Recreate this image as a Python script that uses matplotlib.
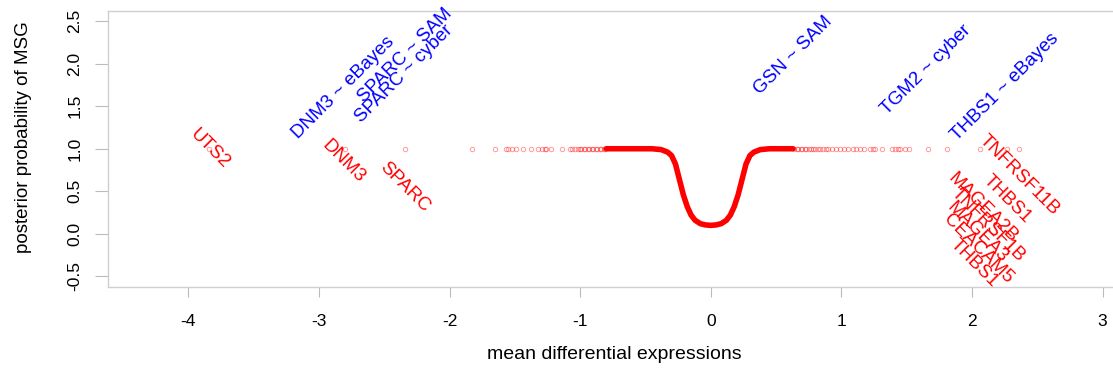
import numpy as np
import matplotlib
matplotlib.use("Agg")
import matplotlib.pyplot as plt

plt.rcParams['font.family'] = ['Liberation Sans', 'DejaVu Sans']
plt.rcParams['axes.unicode_minus'] = False

# fitted posterior curve
curve_x = [-0.80, -0.45, -0.38, -0.33, -0.30, -0.27, -0.24, -0.21, -0.18, -0.15, -0.12,
           -0.08, -0.04, 0.00, 0.04, 0.08, 0.12, 0.15, 0.18, 0.21, 0.24, 0.27, 0.30,
           0.33, 0.38, 0.45, 0.63]
curve_y = [1.00, 1.00, 0.99, 0.96, 0.92, 0.82, 0.64, 0.46, 0.32, 0.22, 0.16,
           0.12, 0.105, 0.10, 0.105, 0.12, 0.16, 0.22, 0.32, 0.46, 0.64, 0.82, 0.92,
           0.96, 0.99, 1.00, 1.00]

# genes (mean differential expression), all at posterior 1
genes_x = [-3.84, -2.80, -2.34, -1.83, -1.65, -1.57, -1.55, -1.52, -1.49, -1.44, -1.38,
           -1.32, -1.29, -1.27, -1.26, -1.22, -1.14, -1.08, -1.06, -1.04, -1.02, -1.00,
           -0.99, -0.97, -0.96, -0.94, -0.93, -0.91, -0.90, -0.88, -0.87, -0.85, -0.84,
           -0.82, -0.81,
           0.64, 0.66, 0.67, 0.69, 0.70, 0.72, 0.73, 0.75, 0.77, 0.78, 0.80, 0.82, 0.84,
           0.86, 0.88, 0.90, 0.93, 0.96, 0.99, 1.02, 1.05, 1.09, 1.11, 1.14, 1.17, 1.22,
           1.24, 1.26, 1.31, 1.39, 1.41, 1.43, 1.45, 1.49, 1.52, 1.66, 1.81, 2.06, 2.27,
           2.36]
genes_y = [1.0] * len(genes_x)

red_labels = ["UTS2", "DNM3", "SPARC", "TNFRSF11B", "THBS1",
              "MAGEA2B", "TNFRSF1B", "MAGEA3", "CEACAM5", "THBS1"]
red_x = [-3.84, -2.81, -2.34, 2.36, 2.27, 2.08, 2.12, 2.04, 2.05, 2.02]
red_y = [1.00, 0.85, 0.55, 0.69, 0.41, 0.31, 0.11, 0.02, -0.17, -0.34]

blue_labels = ["DNM3 ~ eBayes", "SPARC ~ SAM", "SPARC ~ cyber",
               "GSN ~ SAM", "TGM2 ~ cyber", "THBS1 ~ eBayes"]
blue_x = [-2.81, -2.34, -2.35, 0.63, 1.65, 2.25]
blue_y = [1.72, 2.10, 1.88, 2.10, 1.93, 1.72]

xticks = [-4, -3, -2, -1, 0, 1, 2, 3]
yticks = [-0.5, 0.0, 0.5, 1.0, 1.5, 2.0, 2.5]

fig = plt.figure(figsize=(11.13, 3.72), dpi=100)
# box runs to the right edge of the picture, no right spine
ax = fig.add_axes([108 / 1113, 85 / 372, 1005 / 1113, 276 / 372])

ax.plot(genes_x, genes_y, 'o', ms=3.2, mfc='none', mec=(1, 0, 0, 0.4), mew=0.7)
ax.plot(curve_x, curve_y, color='red', lw=4.0, solid_capstyle='round')

for lab, x, y in zip(red_labels, red_x, red_y):
    ax.text(x, y, lab, color='red', fontsize=13.5, rotation=-45,
            rotation_mode='anchor', ha='center', va='center')
for lab, x, y in zip(blue_labels, blue_x, blue_y):
    ax.text(x, y, lab, color='blue', fontsize=13.5, rotation=45,
            rotation_mode='anchor', ha='center', va='center')

ax.set_xlim(-4.615, 3.08)
ax.set_ylim(-0.624, 2.618)
ax.set_xticks(xticks)
ax.set_xticklabels([str(t) for t in xticks])
ax.set_yticks(yticks)
ax.set_yticklabels(["%.1f" % t for t in yticks], rotation=90, va='center')

for s in ax.spines.values():
    s.set_color('#cfcfcf')
    s.set_linewidth(1.0)
ax.spines['right'].set_visible(False)
ax.tick_params(axis='x', length=7.2, width=0.8, color='#bbbbbb', pad=12, labelsize=12.5)
ax.tick_params(axis='y', length=9.4, width=0.8, color='#bbbbbb', pad=9, labelsize=12.5)

ax.set_xlabel("mean differential expressions", fontsize=14, va='center')
ax.xaxis.set_label_coords(506 / 1005, -0.246)
ax.set_ylabel("posterior probability of MSG", fontsize=13.5, va='center')
ax.yaxis.set_label_coords(-84 / 1005, 0.542)

fig.savefig("out.png", dpi=100)
